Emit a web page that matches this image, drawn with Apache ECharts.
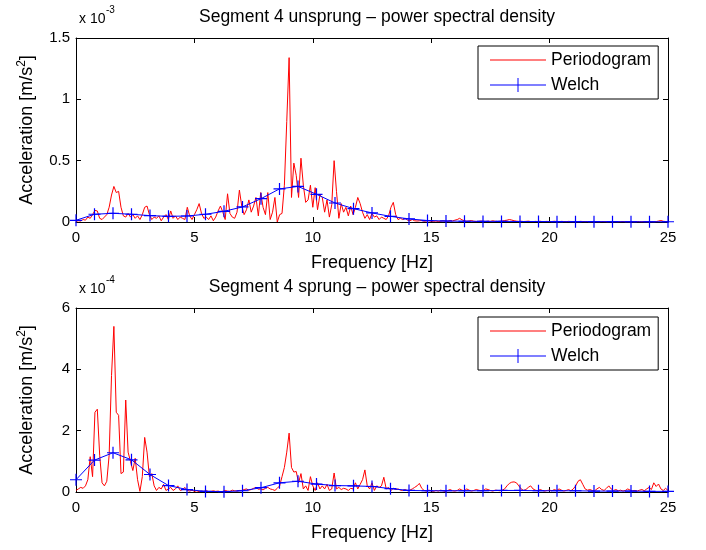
<!DOCTYPE html>
<html><head><meta charset="utf-8">
<script src="https://cdn.jsdelivr.net/npm/echarts@6/dist/echarts.min.js"></script>
<style>html,body{margin:0;padding:0;background:#fff}#c{width:706px;height:550px}</style>
</head><body><div id="c"></div>
<script>
// Frequency grids
const dfP = 0.1;           // periodogram bin spacing [Hz]
const dfW = 25 / 32;       // Welch bin spacing [Hz]
const titles = ['Segment 4 unsprung \u2013 power spectral density', 'Segment 4 sprung \u2013 power spectral density'];
const exps = ['-3', '-4'];

// Unsprung periodogram (x 1e-3 m/s^2)
const unsprungPeriodogram = [
0.005,0.01,0.008,0.02,0.015,0.04,0.03,0.06,0.095,0.09,
0.03,0.02,0.04,0.06,0.12,0.22,0.29,0.24,0.25,0.12,
0.05,0.04,0.07,0.04,0.06,0.03,0.05,0.02,0.06,0.12,
0.13,0.06,0.02,0.04,0.03,0.05,0.01,0.04,0.06,0.02,
0.09,0.03,0.05,0.02,0.04,0.03,0.02,0.12,0.05,0.02,
0.06,0.10,0.15,0.07,0.03,0.04,0.02,0.05,0.01,0.04,
0.09,0.13,0.08,0.02,0.23,0.07,0.04,0.03,0.08,0.26,
0.13,0.06,0.10,0.18,0.08,0.13,0.20,0.05,0.24,0.12,
0.06,0.24,0.02,0.08,0.20,0.00,0.06,0.07,0.30,0.82,
1.34,0.20,0.48,0.38,0.20,0.52,0.30,0.16,0.18,0.30,
0.12,0.28,0.10,0.22,0.20,0.08,0.18,0.04,0.14,0.50,
0.25,0.03,0.15,0.08,0.12,0.05,0.13,0.06,0.12,0.20,
0.15,0.08,0.03,0.06,0.02,0.07,0.04,0.05,0.02,0.04,
0.03,0.02,0.05,0.12,0.16,0.06,0.02,0.03,0.02,0.03,
0.015,0.01,0.02,0.01,0.008,0.01,0.012,0.006,0.008,0.01,
0.006,0.005,0.008,0.004,0.006,0.01,0.007,0.005,0.012,0.008,
0.015,0.02,0.03,0.018,0.01,0.006,0.008,0.012,0.006,0.004,
0.005,0.008,0.006,0.004,0.007,0.005,0.01,0.006,0.004,0.006,
0.008,0.012,0.015,0.02,0.016,0.01,0.007,0.005,0.006,0.004,
0.005,0.007,0.004,0.003,0.005,0.004,0.006,0.003,0.004,0.005,
0.003,0.004,0.006,0.004,0.003,0.005,0.004,0.003,0.005,0.004,
0.003,0.004,0.003,0.005,0.004,0.003,0.004,0.002,0.003,0.004,
0.003,0.002,0.004,0.003,0.002,0.003,0.004,0.002,0.003,0.002,
0.003,0.004,0.002,0.003,0.002,0.003,0.002,0.004,0.003,0.002,
0.003,0.002,0.003,0.004,0.002,0.003,0.008,0.012,0.006,0.004,
0.002];
// Unsprung Welch (x 1e-3)
const unsprungWelch = [0.014,0.063,0.071,0.063,0.052,0.046,0.049,0.063,0.087,0.123,0.19,0.27,0.29,0.226,0.155,0.109,0.074,0.046,0.025,0.012,0.008,0.006,0.005,0.005,0.004,0.004,0.003,0.003,0.003,0.003,0.002,0.002,0.002];

// Sprung periodogram (x 1e-4 m/s^2)
const sprungPeriodogram = [
0.05,0.10,0.15,0.12,0.20,0.40,1.15,0.50,2.60,2.70,
1.20,0.30,0.20,0.35,1.20,3.80,5.40,2.60,2.50,0.60,
0.65,3.00,1.30,1.00,0.70,1.10,0.40,0.02,0.50,1.78,
1.30,0.50,0.60,0.20,0.05,0.15,0.10,0.25,0.05,0.10,
0.15,0.05,0.10,0.20,0.05,0.08,0.15,0.05,0.03,0.06,
0.02,0.04,0.01,0.03,0.02,0.05,0.01,0.02,0.04,0.02,
0.03,0.01,0.02,0.05,0.03,0.02,0.06,0.04,0.03,0.05,
0.05,0.08,0.10,0.06,0.08,0.12,0.15,0.09,0.10,0.07,
0.12,0.15,0.10,0.08,0.05,0.12,0.20,0.50,0.80,1.30,
1.92,0.80,0.65,0.67,0.30,0.60,0.10,0.20,0.05,0.50,
0.20,0.05,0.30,0.10,0.20,0.10,0.25,0.05,0.10,0.62,
0.10,0.15,0.08,0.12,0.10,0.05,0.12,0.10,0.30,0.10,
0.25,0.40,0.72,0.20,0.10,0.30,0.05,0.20,0.15,0.20,
0.48,0.10,0.15,0.05,0.12,0.08,0.10,0.06,0.05,0.08,
0.04,0.06,0.10,0.15,0.20,0.28,0.12,0.05,0.03,0.06,
0.04,0.02,0.05,0.03,0.06,0.04,0.02,0.05,0.08,0.04,
0.03,0.05,0.10,0.06,0.04,0.10,0.06,0.03,0.05,0.08,
0.06,0.04,0.05,0.10,0.08,0.05,0.03,0.06,0.05,0.04,
0.06,0.10,0.20,0.28,0.32,0.33,0.30,0.20,0.10,0.05,
0.08,0.15,0.20,0.10,0.06,0.04,0.08,0.05,0.03,0.05,
0.06,0.04,0.08,0.05,0.10,0.06,0.03,0.05,0.08,0.04,
0.10,0.20,0.35,0.40,0.25,0.10,0.06,0.08,0.05,0.04,
0.10,0.15,0.08,0.05,0.12,0.20,0.10,0.05,0.08,0.04,
0.06,0.03,0.05,0.10,0.06,0.04,0.05,0.03,0.06,0.08,
0.04,0.10,0.15,0.08,0.30,0.18,0.26,0.10,0.05,0.12,
0.05];
// Sprung Welch (x 1e-4)
const sprungWelch = [0.40,1.04,1.28,1.05,0.57,0.21,0.08,0.02,0.01,0.04,0.14,0.30,0.35,0.26,0.21,0.20,0.18,0.11,0.05,0.04,0.04,0.04,0.04,0.05,0.05,0.04,0.04,0.04,0.03,0.03,0.03,0.02,0.02];

const FONT = 'Liberation Sans';
const RED = '#ff0000', BLUE = '#0000ff';
const toPairs = (arr, df) => arr.map((v, i) => [i * df, v]);

const grids = [
  {left: 76, top: 38, width: 592, height: 184},
  {left: 76, top: 308, width: 592, height: 184}
];
const yMax = [1.5, 6], yInt = [0.5, 2];

const xAxis = [], yAxis = [], series = [], legend = [], title = [], graphic = [];
const periodograms = [unsprungPeriodogram, sprungPeriodogram];
const welches = [unsprungWelch, sprungWelch];
const plusPath = 'path://M4.5,0 H5.5 V10 H4.5 Z M0,4.5 H10 V5.5 H0 Z';

for (let g = 0; g < 2; g++) {
  xAxis.push({gridIndex: g, type: 'value', min: 0, max: 25, interval: 5, position: 'bottom',
    name: 'Frequency [Hz]', nameLocation: 'middle', nameGap: 32,
    nameTextStyle: {fontFamily: FONT, fontSize: 18, color: '#000'},
    axisLine: {show: true, onZero: false, lineStyle: {color: '#000', width: 1}},
    axisTick: {show: true, inside: true, length: 5, lineStyle: {color: '#000'}},
    axisLabel: {fontFamily: FONT, fontSize: 15, color: '#000', margin: 8},
    splitLine: {show: false}});
  xAxis.push({gridIndex: g, type: 'value', min: 0, max: 25, interval: 5, position: 'top',
    axisLine: {show: true, onZero: false, lineStyle: {color: '#000', width: 1}},
    axisTick: {show: true, inside: true, length: 5, lineStyle: {color: '#000'}},
    axisLabel: {show: false}, splitLine: {show: false}});
  yAxis.push({gridIndex: g, type: 'value', min: 0, max: yMax[g], interval: yInt[g], position: 'left',
    name: '{a|Acceleration [m/s}{s|2}{a|]}', nameLocation: 'middle', nameGap: 38,
    nameTextStyle: {fontFamily: FONT, fontSize: 18, color: '#000',
      rich: {a: {fontFamily: FONT, fontSize: 18, color: '#000'},
             s: {fontFamily: FONT, fontSize: 12, color: '#000', verticalAlign: 'top', padding: [0, 0, 10, 0]}}},
    axisLine: {show: true, onZero: false, lineStyle: {color: '#000', width: 1}},
    axisTick: {show: true, inside: true, length: 5, lineStyle: {color: '#000'}},
    axisLabel: {fontFamily: FONT, fontSize: 15, color: '#000', margin: 6},
    splitLine: {show: false}});
  yAxis.push({gridIndex: g, type: 'value', min: 0, max: yMax[g], interval: yInt[g], position: 'right',
    axisLine: {show: true, onZero: false, lineStyle: {color: '#000', width: 1}},
    axisTick: {show: true, inside: true, length: 5, lineStyle: {color: '#000'}},
    axisLabel: {show: false}, splitLine: {show: false}});

  series.push({name: 'Periodogram', type: 'line', xAxisIndex: 2 * g, yAxisIndex: 2 * g,
    data: toPairs(periodograms[g], dfP), showSymbol: false, symbol: 'none', color: RED,
    lineStyle: {color: RED, width: 1}, itemStyle: {color: RED}, animation: false, z: 2});
  series.push({name: 'Welch', type: 'line', xAxisIndex: 2 * g, yAxisIndex: 2 * g,
    data: toPairs(welches[g], dfW), symbol: plusPath, symbolSize: 12, showSymbol: true, clip: false, color: BLUE,
    lineStyle: {color: BLUE, width: 1}, itemStyle: {color: BLUE}, animation: false, z: 3});

  legend.push({show: true, left: 478, top: g === 0 ? 46 : 317, orient: 'vertical',
    selectedMode: false, backgroundColor: '#fff', borderColor: '#000', borderWidth: 1,
    padding: [5, 7, 5, 12], itemGap: 7, itemWidth: 56, itemHeight: 14,
    textStyle: {fontFamily: FONT, fontSize: 17.5, color: '#000'},
    data: [
      {name: 'Periodogram', icon: 'path://M0,6.5 H56 V7.5 H0 Z', itemStyle: {color: RED, borderWidth: 0}},
      {name: 'Welch', icon: 'path://M0,6.5 H56 V7.5 H0 Z M27.5,0 H28.5 V14 H27.5 Z', itemStyle: {color: BLUE, borderWidth: 0}}
    ]});

  title.push({text: titles[g], left: 372, textAlign: 'center', top: g === 0 ? 3 : 273,
    textStyle: {fontFamily: FONT, fontSize: 17.5, fontWeight: 'normal', color: '#000'}});

  graphic.push({type: 'text', left: 79, top: g === 0 ? 12 : 282,
    style: {text: 'x 10', fontFamily: FONT, fontSize: 14, fill: '#000'}});
  graphic.push({type: 'text', left: 106, top: g === 0 ? 5 : 275,
    style: {text: exps[g], fontFamily: FONT, fontSize: 10, fill: '#000'}});
}

const chart = echarts.init(document.getElementById('c'), null, {renderer: 'canvas'});
chart.setOption({
  backgroundColor: '#fff', animation: false,
  grid: grids.map(g => Object.assign({containLabel: false}, g)),
  title, legend, xAxis, yAxis, series, graphic
});
</script></body></html>
